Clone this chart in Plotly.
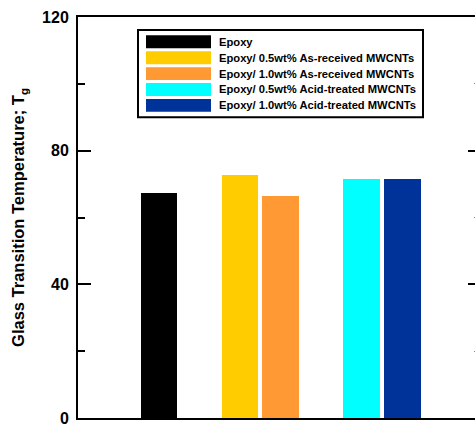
import plotly.graph_objects as go

# Glass transition temperature of epoxy and MWCNT composites
series = [
    "Epoxy",
    "Epoxy/ 0.5wt% As-received MWCNTs",
    "Epoxy/ 1.0wt% As-received MWCNTs",
    "Epoxy/ 0.5wt% Acid-treated MWCNTs",
    "Epoxy/ 1.0wt% Acid-treated MWCNTs",
]
tg_values = [67.3, 72.7, 66.4, 71.5, 71.5]
slot = [2, 4, 5, 7, 8]
colors = ["#000000", "#FFCC00", "#FF9933", "#00FFFF", "#003399"]
y_ticks = [0, 40, 80, 120]

W, H = 475, 427
ML, MR, MT, MB = 78, 0, 17, 6
FONT = "Liberation Sans, Arial, sans-serif"

fig = go.Figure()
for name, x, v, c in zip(series, slot, tg_values, colors):
    fig.add_trace(go.Bar(x=[x], y=[v], name=name, width=0.91,
                         marker=dict(color=c, line=dict(width=0)),
                         showlegend=False))

# Paper-coordinate helpers for the boxed key
pw, ph = W - ML - MR, H - MT - MB
def px_x(p):
    return (p - ML) / pw
def px_y(p):
    return (H - MB - p) / ph

shapes = [dict(type="rect", xref="paper", yref="paper",
               x0=px_x(138), x1=px_x(423), y0=px_y(118), y1=px_y(30),
               line=dict(color="black", width=2), fillcolor="white", layer="above")]
annotations = []
for i, (name, c) in enumerate(zip(series, colors)):
    yc = 42 + 16 * i
    shapes.append(dict(type="rect", xref="paper", yref="paper",
                       x0=px_x(146), x1=px_x(211), y0=px_y(yc + 6.5), y1=px_y(yc - 6.5),
                       line=dict(width=0), fillcolor=c, layer="above"))
    annotations.append(dict(xref="paper", yref="paper", x=px_x(217), y=px_y(yc),
                            xanchor="left", yanchor="middle", showarrow=False,
                            text=name, font=dict(family=FONT, size=11.2, color="black",
                                                 weight="bold")))

fig.update_layout(
    width=W, height=H,
    margin=dict(l=ML, r=MR, t=MT, b=MB),
    paper_bgcolor="white", plot_bgcolor="white",
    bargap=0,
    shapes=shapes, annotations=annotations,
    xaxis=dict(range=[0, 9.8], showline=True, linecolor="black", linewidth=2,
               mirror=True, ticks="", showticklabels=False, showgrid=False,
               zeroline=False, fixedrange=True),
    yaxis=dict(range=[0, 120], tickvals=y_ticks, ticks="inside", ticklen=13,
               tickwidth=2, tickcolor="black", showline=True, linecolor="black",
               linewidth=2, showgrid=False, zeroline=False,
               ticklabeloverflow="allow", ticklabelstandoff=4,
               minor=dict(dtick=20, ticks="inside", ticklen=7, tickwidth=1.5,
                          tickcolor="black", showgrid=False),
               tickfont=dict(family=FONT, size=16, color="black", weight="bold"),
               title=dict(text="Glass Transition Temperature; T<sub>g</sub>",
                          font=dict(family=FONT, size=16.5, color="black", weight="bold"),
                          standoff=13)),
    yaxis2=dict(range=[0, 120], overlaying="y", side="right", anchor="x",
                tickvals=y_ticks, ticks="inside", ticklen=7, tickwidth=2,
                tickcolor="black", showticklabels=False, showline=False,
                showgrid=False, zeroline=False,
                minor=dict(dtick=20, ticks="inside", ticklen=1, tickwidth=1,
                           tickcolor="#888888", showgrid=False)),
)
# Invisible trace so the right-hand axis is rendered
fig.add_trace(go.Scatter(x=[None], y=[None], yaxis="y2", showlegend=False,
                         hoverinfo="skip"))

fig.write_html("out.html")
